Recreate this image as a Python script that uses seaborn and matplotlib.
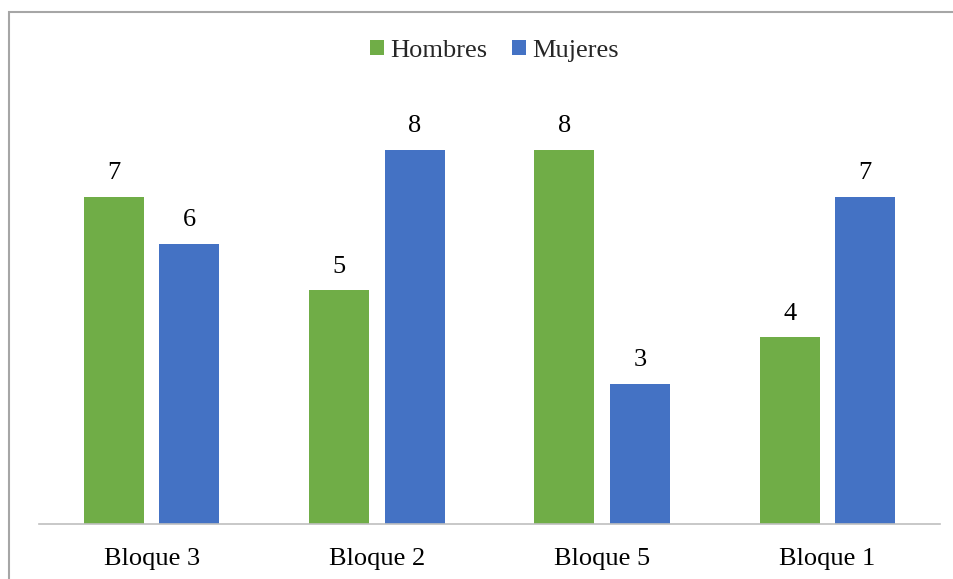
import matplotlib
matplotlib.use("Agg")
import matplotlib.pyplot as plt
import seaborn as sns
import pandas as pd
from matplotlib.patches import Rectangle

categories = ["Bloque 3", "Bloque 2", "Bloque 5", "Bloque 1"]
hombres = [7, 5, 8, 4]
mujeres = [6, 8, 3, 7]
series_names = ["Hombres", "Mujeres"]
colors = ["#70AD47", "#4472C4"]

df = pd.DataFrame({
    "Bloque": categories * 2,
    "Valor": hombres + mujeres,
    "Sexo": [series_names[0]] * len(categories) + [series_names[1]] * len(categories),
})

sns.set_style("white")
plt.rcParams["font.family"] = ["Liberation Serif", "DejaVu Serif"]
FS = 19

fig = plt.figure(figsize=(9.54, 5.79), dpi=100)
ax = fig.add_axes([39 / 954, 1 - 524 / 579, (940 - 39) / 954, 420.75 / 579])

sns.barplot(data=df, x="Bloque", y="Valor", hue="Sexo", order=categories,
            hue_order=series_names, palette=colors, width=0.67, gap=0.205,
            saturation=1, linewidth=0, ax=ax, legend=True)

ax.set_ylim(0, 9)
ax.set_xlim(-0.5, len(categories) - 0.5)
ax.set_xlabel("")
ax.set_ylabel("")
ax.set_yticks([])
for s in ["top", "right", "left"]:
    ax.spines[s].set_visible(False)
ax.spines["bottom"].set_color("#BFBFBF")
ax.spines["bottom"].set_linewidth(1.2)
ax.tick_params(axis="x", length=0, pad=17.5, labelsize=FS, labelcolor="black")

for c in ax.containers:
    ax.bar_label(c, fmt="%d", padding=9, fontsize=FS, color="black")

handles, labels = ax.get_legend_handles_labels()
ax.get_legend().remove()
fig.legend(handles, labels, loc="center", bbox_to_anchor=(0.518, 1 - 51 / 579),
           ncol=2, frameon=False, fontsize=FS, handlelength=0.53, handleheight=0.53,
           handletextpad=0.22, columnspacing=0.95, borderaxespad=0)

fig.add_artist(Rectangle((9.5 / 954, -0.1), 1.2, 1 - 12.5 / 579 + 0.1,
                         transform=fig.transFigure, fill=False,
                         edgecolor="#A6A6A6", linewidth=1.5, clip_on=False))

fig.savefig("out.png", dpi=100)
